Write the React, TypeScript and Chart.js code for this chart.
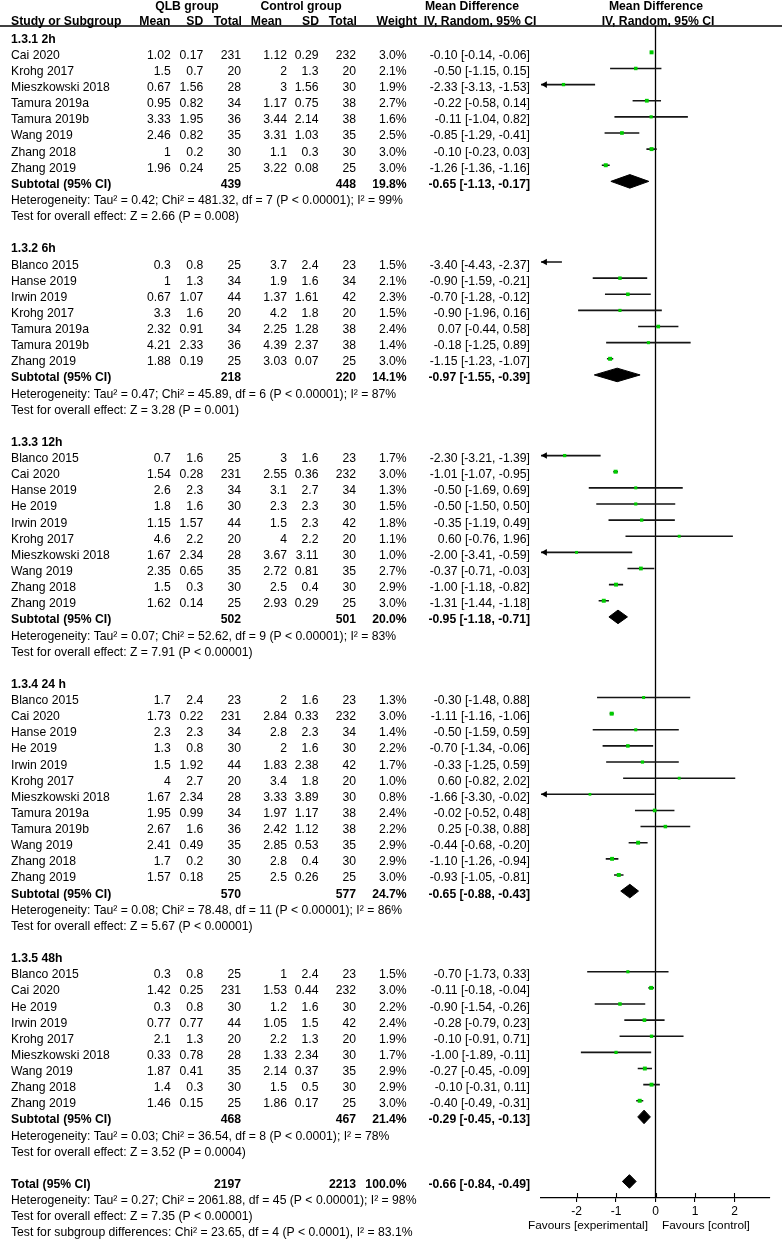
import React, { useEffect, useRef } from "react";
import { Chart, registerables } from "chart.js";

Chart.register(...registerables);

// [study, QLB mean, QLB SD, QLB total, Control mean, Control SD, Control total, weight %, MD, CI low, CI high]
type StudyRow = [string, number, number, number, number, number, number, number, number, number, number];
// [QLB total, Control total, weight %, MD, CI low, CI high]
type SumRow = [number, number, number, number, number, number];

const subgroupLabels = ["1.3.1 2h", "1.3.2 6h", "1.3.3 12h", "1.3.4 24 h", "1.3.5 48h"];

const studies2h: StudyRow[] = [
  ["Cai 2020", 1.02, 0.17, 231, 1.12, 0.29, 232, 3.0, -0.1, -0.14, -0.06],
  ["Krohg 2017", 1.5, 0.7, 20, 2, 1.3, 20, 2.1, -0.5, -1.15, 0.15],
  ["Mieszkowski 2018", 0.67, 1.56, 28, 3, 1.56, 30, 1.9, -2.33, -3.13, -1.53],
  ["Tamura 2019a", 0.95, 0.82, 34, 1.17, 0.75, 38, 2.7, -0.22, -0.58, 0.14],
  ["Tamura 2019b", 3.33, 1.95, 36, 3.44, 2.14, 38, 1.6, -0.11, -1.04, 0.82],
  ["Wang 2019", 2.46, 0.82, 35, 3.31, 1.03, 35, 2.5, -0.85, -1.29, -0.41],
  ["Zhang 2018", 1, 0.2, 30, 1.1, 0.3, 30, 3.0, -0.1, -0.23, 0.03],
  ["Zhang 2019", 1.96, 0.24, 25, 3.22, 0.08, 25, 3.0, -1.26, -1.36, -1.16],
];

const studies6h: StudyRow[] = [
  ["Blanco 2015", 0.3, 0.8, 25, 3.7, 2.4, 23, 1.5, -3.4, -4.43, -2.37],
  ["Hanse 2019", 1, 1.3, 34, 1.9, 1.6, 34, 2.1, -0.9, -1.59, -0.21],
  ["Irwin 2019", 0.67, 1.07, 44, 1.37, 1.61, 42, 2.3, -0.7, -1.28, -0.12],
  ["Krohg 2017", 3.3, 1.6, 20, 4.2, 1.8, 20, 1.5, -0.9, -1.96, 0.16],
  ["Tamura 2019a", 2.32, 0.91, 34, 2.25, 1.28, 38, 2.4, 0.07, -0.44, 0.58],
  ["Tamura 2019b", 4.21, 2.33, 36, 4.39, 2.37, 38, 1.4, -0.18, -1.25, 0.89],
  ["Zhang 2019", 1.88, 0.19, 25, 3.03, 0.07, 25, 3.0, -1.15, -1.23, -1.07],
];

const studies12h: StudyRow[] = [
  ["Blanco 2015", 0.7, 1.6, 25, 3, 1.6, 23, 1.7, -2.3, -3.21, -1.39],
  ["Cai 2020", 1.54, 0.28, 231, 2.55, 0.36, 232, 3.0, -1.01, -1.07, -0.95],
  ["Hanse 2019", 2.6, 2.3, 34, 3.1, 2.7, 34, 1.3, -0.5, -1.69, 0.69],
  ["He 2019", 1.8, 1.6, 30, 2.3, 2.3, 30, 1.5, -0.5, -1.5, 0.5],
  ["Irwin 2019", 1.15, 1.57, 44, 1.5, 2.3, 42, 1.8, -0.35, -1.19, 0.49],
  ["Krohg 2017", 4.6, 2.2, 20, 4, 2.2, 20, 1.1, 0.6, -0.76, 1.96],
  ["Mieszkowski 2018", 1.67, 2.34, 28, 3.67, 3.11, 30, 1.0, -2.0, -3.41, -0.59],
  ["Wang 2019", 2.35, 0.65, 35, 2.72, 0.81, 35, 2.7, -0.37, -0.71, -0.03],
  ["Zhang 2018", 1.5, 0.3, 30, 2.5, 0.4, 30, 2.9, -1.0, -1.18, -0.82],
  ["Zhang 2019", 1.62, 0.14, 25, 2.93, 0.29, 25, 3.0, -1.31, -1.44, -1.18],
];

const studies24h: StudyRow[] = [
  ["Blanco 2015", 1.7, 2.4, 23, 2, 1.6, 23, 1.3, -0.3, -1.48, 0.88],
  ["Cai 2020", 1.73, 0.22, 231, 2.84, 0.33, 232, 3.0, -1.11, -1.16, -1.06],
  ["Hanse 2019", 2.3, 2.3, 34, 2.8, 2.3, 34, 1.4, -0.5, -1.59, 0.59],
  ["He 2019", 1.3, 0.8, 30, 2, 1.6, 30, 2.2, -0.7, -1.34, -0.06],
  ["Irwin 2019", 1.5, 1.92, 44, 1.83, 2.38, 42, 1.7, -0.33, -1.25, 0.59],
  ["Krohg 2017", 4, 2.7, 20, 3.4, 1.8, 20, 1.0, 0.6, -0.82, 2.02],
  ["Mieszkowski 2018", 1.67, 2.34, 28, 3.33, 3.89, 30, 0.8, -1.66, -3.3, -0.02],
  ["Tamura 2019a", 1.95, 0.99, 34, 1.97, 1.17, 38, 2.4, -0.02, -0.52, 0.48],
  ["Tamura 2019b", 2.67, 1.6, 36, 2.42, 1.12, 38, 2.2, 0.25, -0.38, 0.88],
  ["Wang 2019", 2.41, 0.49, 35, 2.85, 0.53, 35, 2.9, -0.44, -0.68, -0.2],
  ["Zhang 2018", 1.7, 0.2, 30, 2.8, 0.4, 30, 2.9, -1.1, -1.26, -0.94],
  ["Zhang 2019", 1.57, 0.18, 25, 2.5, 0.26, 25, 3.0, -0.93, -1.05, -0.81],
];

const studies48h: StudyRow[] = [
  ["Blanco 2015", 0.3, 0.8, 25, 1, 2.4, 23, 1.5, -0.7, -1.73, 0.33],
  ["Cai 2020", 1.42, 0.25, 231, 1.53, 0.44, 232, 3.0, -0.11, -0.18, -0.04],
  ["He 2019", 0.3, 0.8, 30, 1.2, 1.6, 30, 2.2, -0.9, -1.54, -0.26],
  ["Irwin 2019", 0.77, 0.77, 44, 1.05, 1.5, 42, 2.4, -0.28, -0.79, 0.23],
  ["Krohg 2017", 2.1, 1.3, 20, 2.2, 1.3, 20, 1.9, -0.1, -0.91, 0.71],
  ["Mieszkowski 2018", 0.33, 0.78, 28, 1.33, 2.34, 30, 1.7, -1.0, -1.89, -0.11],
  ["Wang 2019", 1.87, 0.41, 35, 2.14, 0.37, 35, 2.9, -0.27, -0.45, -0.09],
  ["Zhang 2018", 1.4, 0.3, 30, 1.5, 0.5, 30, 2.9, -0.1, -0.31, 0.11],
  ["Zhang 2019", 1.46, 0.15, 25, 1.86, 0.17, 25, 3.0, -0.4, -0.49, -0.31],
];

const subgroupStudies = [studies2h, studies6h, studies12h, studies24h, studies48h];

const subtotals: SumRow[] = [
  [439, 448, 19.8, -0.65, -1.13, -0.17],
  [218, 220, 14.1, -0.97, -1.55, -0.39],
  [502, 501, 20.0, -0.95, -1.18, -0.71],
  [570, 577, 24.7, -0.65, -0.88, -0.43],
  [468, 467, 21.4, -0.29, -0.45, -0.13],
];

const heterogeneityTexts = [
  "Heterogeneity: Tau² = 0.42; Chi² = 481.32, df = 7 (P < 0.00001); I² = 99%",
  "Heterogeneity: Tau² = 0.47; Chi² = 45.89, df = 6 (P < 0.00001); I² = 87%",
  "Heterogeneity: Tau² = 0.07; Chi² = 52.62, df = 9 (P < 0.00001); I² = 83%",
  "Heterogeneity: Tau² = 0.08; Chi² = 78.48, df = 11 (P < 0.00001); I² = 86%",
  "Heterogeneity: Tau² = 0.03; Chi² = 36.54, df = 8 (P < 0.0001); I² = 78%",
];

const effectTexts = [
  "Test for overall effect: Z = 2.66 (P = 0.008)",
  "Test for overall effect: Z = 3.28 (P = 0.001)",
  "Test for overall effect: Z = 7.91 (P < 0.00001)",
  "Test for overall effect: Z = 5.67 (P < 0.00001)",
  "Test for overall effect: Z = 3.52 (P = 0.0004)",
];

const totalRow: SumRow = [2197, 2213, 100.0, -0.66, -0.84, -0.49];

const overallTexts = [
  "Heterogeneity: Tau² = 0.27; Chi² = 2061.88, df = 45 (P < 0.00001); I² = 98%",
  "Test for overall effect: Z = 7.35 (P < 0.00001)",
  "Test for subgroup differences: Chi² = 23.65, df = 4 (P < 0.0001), I² = 83.1%",
];

const xTicks = [-2, -1, 0, 1, 2];
const xMin = -2.9;
const xMax = 2.9;
const axisLeftLabel = "Favours [experimental]";
const axisRightLabel = "Favours [control]";

const FONT = '"Liberation Sans", Arial, sans-serif';

type Line =
  | { r: number; kind: "group"; text: string }
  | { r: number; kind: "study"; s: StudyRow }
  | { r: number; kind: "sum"; label: string; t: SumRow }
  | { r: number; kind: "note"; text: string };

function buildLines(): Line[] {
  const lines: Line[] = [];
  let r = 1;
  subgroupLabels.forEach((label, g) => {
    lines.push({ r: r++, kind: "group", text: label });
    subgroupStudies[g].forEach((s) => lines.push({ r: r++, kind: "study", s }));
    lines.push({ r: r++, kind: "sum", label: "Subtotal (95% CI)", t: subtotals[g] });
    lines.push({ r: r++, kind: "note", text: heterogeneityTexts[g] });
    lines.push({ r: r++, kind: "note", text: effectTexts[g] });
    r++;
  });
  lines.push({ r: r++, kind: "sum", label: "Total (95% CI)", t: totalRow });
  overallTexts.forEach((text) => lines.push({ r: r++, kind: "note", text }));
  return lines;
}

const fmt2 = (v: number) => v.toFixed(2);
const mdText = (m: number, lo: number, hi: number) => `${fmt2(m)} [${fmt2(lo)}, ${fmt2(hi)}]`;

export default function App() {
  const ref = useRef<HTMLCanvasElement | null>(null);

  useEffect(() => {
    if (!ref.current) return;
    const lines = buildLines();
    const yTop = 0.3676;
    const yBottom = 73.027;
    const dh = 0.42;

    const ciData: any[] = [];
    const sqData: any[] = [];
    const sqRadius: number[] = [];
    const arrowData: any[] = [];
    const diamondSets: any[] = [];

    lines.forEach((ln) => {
      if (ln.kind === "study") {
        const s = ln.s;
        const [md, lo, hi, w] = [s[8], s[9], s[10], s[7]];
        ciData.push({ x: lo, y: ln.r }, { x: hi, y: ln.r }, { x: null, y: null });
        if (md >= xMin && md <= xMax) {
          sqData.push({ x: md, y: ln.r });
          sqRadius.push((2.3 + 0.55 * w) / 1.414);
        }
        if (lo < xMin) arrowData.push({ x: xMin + 0.1, y: ln.r });
      } else if (ln.kind === "sum") {
        const [, , , md, lo, hi] = ln.t;
        diamondSets.push({
          data: [
            { x: lo, y: ln.r },
            { x: md, y: ln.r - dh },
            { x: hi, y: ln.r },
            { x: md, y: ln.r + dh },
            { x: lo, y: ln.r },
          ],
          showLine: true,
          fill: "shape",
          borderColor: "#000",
          backgroundColor: "#000",
          borderWidth: 1,
          pointRadius: 0,
          tension: 0,
        });
      }
    });

    const tablePlugin = {
      id: "forestTable",
      afterDraw(chart: any) {
        const ctx = chart.ctx as CanvasRenderingContext2D;
        const ys = chart.scales.y;
        const xs = chart.scales.x;
        const ca = chart.chartArea;
        ctx.save();
        ctx.fillStyle = "#000";
        ctx.textBaseline = "alphabetic";
        const txt = (s: string, x: number, y: number, align: CanvasTextAlign, bold = false, size = 12.2) => {
          ctx.font = `${bold ? "bold " : ""}${size}px ${FONT}`;
          ctx.textAlign = align;
          ctx.fillText(s, x, y);
        };
        // header
        const h1 = 9.8;
        const h2 = 25.3;
        txt("QLB group", 187, h1, "center", true);
        txt("Control group", 301, h1, "center", true);
        txt("Mean Difference", 472, h1, "center", true);
        txt("Mean Difference", 656, h1, "center", true);
        txt("Study or Subgroup", 11, h2, "left", true);
        txt("Mean", 170.5, h2, "right", true);
        txt("SD", 203.3, h2, "right", true);
        txt("Total", 242, h2, "right", true);
        txt("Mean", 282, h2, "right", true);
        txt("SD", 319, h2, "right", true);
        txt("Total", 357, h2, "right", true);
        txt("Weight", 417, h2, "right", true);
        txt("IV, Random, 95% CI", 480, h2, "center", true);
        txt("IV, Random, 95% CI", 658, h2, "center", true);
        ctx.strokeStyle = "#000";
        ctx.lineWidth = 1.3;
        ctx.beginPath();
        ctx.moveTo(0, 26);
        ctx.lineTo(782, 26);
        ctx.stroke();

        lines.forEach((ln) => {
          const y = ys.getPixelForValue(ln.r) + 6.5;
          if (ln.kind === "group") {
            txt(ln.text, 11, y, "left", true);
          } else if (ln.kind === "note") {
            txt(ln.text, 11, y, "left", false);
          } else if (ln.kind === "study") {
            const s = ln.s;
            txt(s[0], 11, y, "left");
            txt(String(s[1]), 170.7, y, "right");
            txt(String(s[2]), 203.3, y, "right");
            txt(String(s[3]), 241, y, "right");
            txt(String(s[4]), 287, y, "right");
            txt(String(s[5]), 318.5, y, "right");
            txt(String(s[6]), 356, y, "right");
            txt(s[7].toFixed(1) + "%", 406.7, y, "right");
            txt(mdText(s[8], s[9], s[10]), 530, y, "right");
          } else {
            const t = ln.t;
            txt(ln.label, 11, y, "left", true);
            txt(String(t[0]), 241, y, "right", true);
            txt(String(t[1]), 356, y, "right", true);
            txt(t[2].toFixed(1) + "%", 406.7, y, "right", true);
            txt(mdText(t[3], t[4], t[5]), 530, y, "right", true);
          }
        });

        // upward halves of the axis tick marks
        ctx.strokeStyle = "#000";
        ctx.lineWidth = 1.1;
        xTicks.forEach((v) => {
          const px = Math.round(xs.getPixelForValue(v)) + 0.5;
          ctx.beginPath();
          ctx.moveTo(px, ca.bottom - 5);
          ctx.lineTo(px, ca.bottom);
          ctx.stroke();
        });
        txt(axisLeftLabel, 648, 1229.3, "right", false, 11.8);
        txt(axisRightLabel, 662, 1229.3, "left", false, 11.8);
        ctx.restore();
      },
    };

    const chart = new Chart(ref.current, {
      type: "scatter",
      data: {
        datasets: [
          {
            data: sqData,
            pointStyle: "rect",
            pointRadius: sqRadius,
            pointHoverRadius: sqRadius,
            backgroundColor: "#00cc00",
            borderWidth: 0,
            showLine: false,
          },
          {
            data: arrowData,
            pointStyle: "triangle",
            pointRotation: -90,
            pointRadius: 3.8,
            backgroundColor: "#000",
            borderWidth: 0,
            showLine: false,
          },
          ...diamondSets,
          {
            data: ciData,
            showLine: true,
            spanGaps: false,
            borderColor: "#151515",
            borderWidth: 1.6,
            pointRadius: 0,
          },
          {
            data: [
              { x: 0, y: yTop },
              { x: 0, y: yBottom },
            ],
            showLine: true,
            borderColor: "#000",
            borderWidth: 1.3,
            pointRadius: 0,
          },
        ],
      } as any,
      options: {
        responsive: false,
        animation: false,
        events: [],
        layout: { padding: { left: 541, right: 12, top: 26, bottom: 0 } },
        plugins: { legend: { display: false }, tooltip: { enabled: false } },
        scales: {
          x: {
            type: "linear",
            position: "bottom",
            min: xMin,
            max: xMax,
            afterBuildTicks: (s: any) => {
              s.ticks = xTicks.map((v) => ({ value: v }));
            },
            afterFit: (s: any) => {
              s.height = 42;
            },
            grid: { drawOnChartArea: false, drawTicks: true, tickLength: 4, color: "#000", lineWidth: 1.1 },
            border: { display: true, color: "#000", width: 1.3 },
            ticks: { color: "#000", font: { family: FONT, size: 12 }, padding: 2, maxRotation: 0, autoSkip: false },
          },
          y: {
            type: "linear",
            display: false,
            reverse: true,
            min: yTop,
            max: yBottom,
          },
        },
      } as any,
      plugins: [tablePlugin],
    });
    return () => chart.destroy();
  }, []);

  return (
    <div style={{ position: "absolute", left: 0, top: 0, width: 782, height: 1240, background: "#fff" }}>
      <canvas ref={ref} width={782} height={1240} style={{ display: "block" }} />
    </div>
  );
}
